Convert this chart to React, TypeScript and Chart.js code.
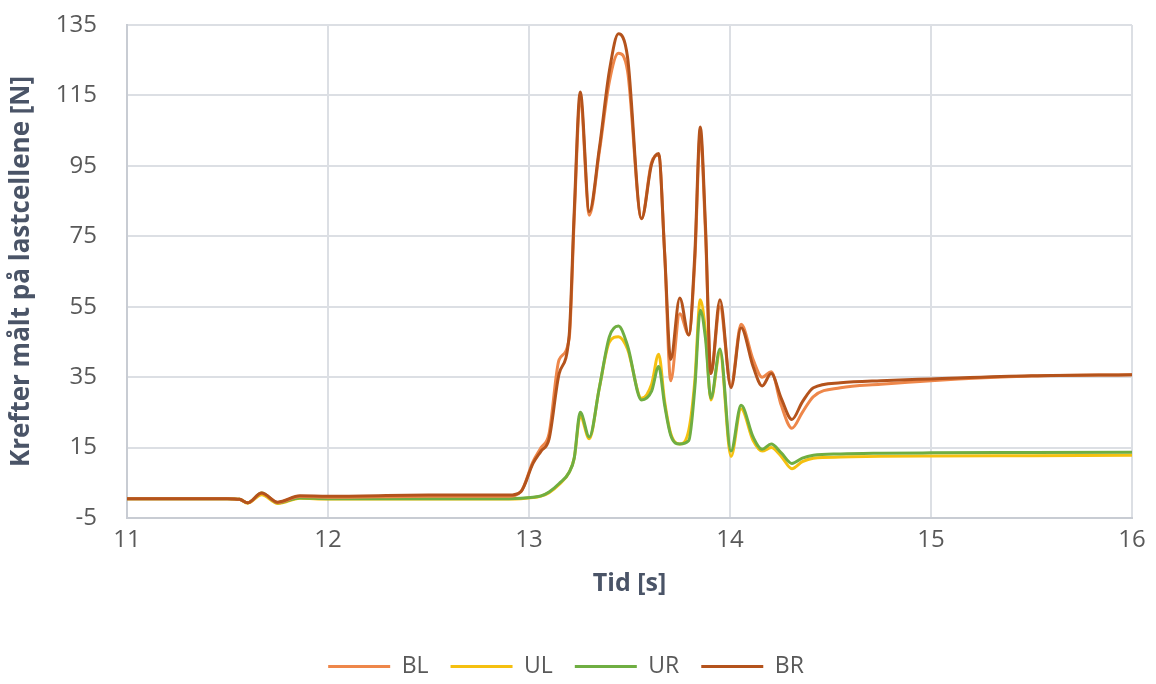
import React, { useEffect, useRef } from "react";
import { Chart, registerables } from "chart.js";

Chart.register(...registerables);

const times = [
  11.0, 11.5, 11.56, 11.6, 11.67, 11.75, 11.86, 12.0, 12.5, 12.9, 12.96, 13.02, 13.06, 13.1, 13.15, 13.2,
  13.225, 13.255, 13.3, 13.35, 13.4, 13.445, 13.49, 13.56, 13.61, 13.645, 13.675, 13.705, 13.75, 13.795,
  13.825, 13.852, 13.878, 13.905, 13.95, 14.005, 14.055, 14.115, 14.16, 14.205, 14.255, 14.308, 14.36,
  14.415, 14.55, 14.75, 15.0, 15.5, 16.0,
];

const BL = [
  0.5, 0.5, 0.3, -0.7, 2.0, -0.6, 1.1, 0.9, 1.2, 1.2, 2.5, 11, 15, 19, 40, 46,
  80, 114, 81, 99, 119, 127, 122, 80, 96, 98, 70, 34,
  53, 47, 68, 104, 76, 36, 55, 32.5, 50, 40, 35, 36.5, 27, 20.5, 25,
  29.5, 32, 33, 34, 35.3, 35.7,
];
const UL = [
  0.5, 0.5, 0.3, -0.8, 1.6, -0.9, 0.6, 0.4, 0.4, 0.4, 0.5, 0.8, 1.2, 2.2, 4.5, 8,
  12, 24, 17.5, 32, 45, 46.5, 43, 29, 33, 41.5, 28, 19,
  16, 20, 34, 57, 48, 28.5, 42, 12.5, 26, 17, 14, 15, 12.5, 9, 11,
  12, 12.3, 12.5, 12.6, 12.7, 12.8,
];
const UR = [
  0.5, 0.5, 0.3, -0.7, 2.1, -0.7, 0.7, 0.5, 0.5, 0.5, 0.6, 0.9, 1.3, 2.4, 4.8, 8,
  12, 25, 18, 32, 46.5, 49.5, 44, 28.5, 31, 38, 27, 18.5,
  16, 17, 32, 54, 46, 29, 43, 14, 27, 18, 14.5, 16, 13.5, 10.5, 12,
  12.8, 13.2, 13.4, 13.5, 13.6, 13.7,
];
const BR = [
  0.5, 0.5, 0.3, -0.7, 2.1, -0.5, 1.3, 1.2, 1.5, 1.5, 2.5, 10.5, 14, 17.5, 36, 47,
  82, 116, 82, 100, 122, 132.5, 126, 80, 95.5, 98.5, 70, 40,
  57.5, 47, 70, 106, 78, 36, 57, 32, 49, 38, 32.5, 36, 29, 23, 28,
  32, 33.4, 34, 34.5, 35.4, 35.7,
];

const seriesNames = ["BL", "UL", "UR", "BR"];
const seriesValues = [BL, UL, UR, BR];
const seriesColors = ["#EE874A", "#F5C010", "#6FAE42", "#B4531C"];
const drawOrder = [1, 3, 2, 0];

const xTicks = [11, 12, 13, 14, 15, 16];
const yTicks = [-5, 15, 35, 55, 75, 95, 115, 135];

const xTitle = "Tid [s]";
const yTitle = "Krefter målt på lastcellene [N]";

export default function App() {
  const ref = useRef<HTMLCanvasElement | null>(null);

  useEffect(() => {
    if (!ref.current) return;
    const datasets = seriesNames.map((name, i) => ({
      label: name,
      data: times.map((t, k) => ({ x: t, y: seriesValues[i][k] })),
      borderColor: seriesColors[i],
      backgroundColor: seriesColors[i],
      borderWidth: 3,
      pointRadius: 0,
      order: drawOrder[i],
      cubicInterpolationMode: "monotone" as const,
      fill: false,
    }));
    const gridColor = "#DCDFE4";
    const chart = new Chart(ref.current, {
      type: "line",
      data: { datasets },
      options: {
        responsive: false,
        animation: false,
        layout: { padding: { left: 0, right: 24, top: 25, bottom: -4 } },
        plugins: {
          tooltip: { enabled: false },
          legend: {
            position: "bottom",
            labels: {
              usePointStyle: true,
              pointStyle: "line",
              pointStyleWidth: 62,
              padding: 22,
              color: "#595959",
              font: { family: "'Open Sans'", size: 23 },
              sort: (a: any, b: any) => a.datasetIndex - b.datasetIndex,
            },
          },
        },
        scales: {
          x: {
            type: "linear",
            min: 11,
            max: 16,
            afterBuildTicks: (s: any) => {
              s.ticks = xTicks.map((v) => ({ value: v }));
            },
            afterFit: (s: any) => {
              s.height = 115;
            },
            grid: { color: gridColor, lineWidth: 2, drawTicks: false },
            border: { color: "#C8CCD3", width: 2 },
            ticks: {
              padding: 8,
              color: "#595959",
              font: { family: "'Open Sans'", size: 24 },
            },
            title: {
              display: true,
              text: xTitle,
              color: "#4A5467",
              font: { family: "'Open Sans'", size: 25, weight: "bold" },
              padding: { top: 4, bottom: 34 },
            },
          },
          y: {
            type: "linear",
            min: -5,
            max: 135,
            afterBuildTicks: (s: any) => {
              s.ticks = yTicks.map((v) => ({ value: v }));
            },
            afterFit: (s: any) => {
              s.width = 127;
            },
            grid: {
              color: gridColor,
              lineWidth: 2,
              drawTicks: true,
              tickLength: 26,
              tickColor: "rgba(0,0,0,0)",
            },
            border: { color: "#C8CCD3", width: 2 },
            ticks: {
              padding: 4,
              color: "#595959",
              font: { family: "'Open Sans'", size: 24 },
            },
            title: {
              display: true,
              text: yTitle,
              color: "#4A5467",
              font: { family: "'Open Sans'", size: 26, weight: "bold" },
              padding: { top: 6, bottom: 0 },
            },
          },
        },
      },
    });
    return () => chart.destroy();
  }, []);

  return (
    <div style={{ position: "fixed", left: 0, top: 0, width: 1156, height: 684, background: "#fff" }}>
      <canvas ref={ref} width={1156} height={684} style={{ width: 1156, height: 684, display: "block" }} />
    </div>
  );
}
